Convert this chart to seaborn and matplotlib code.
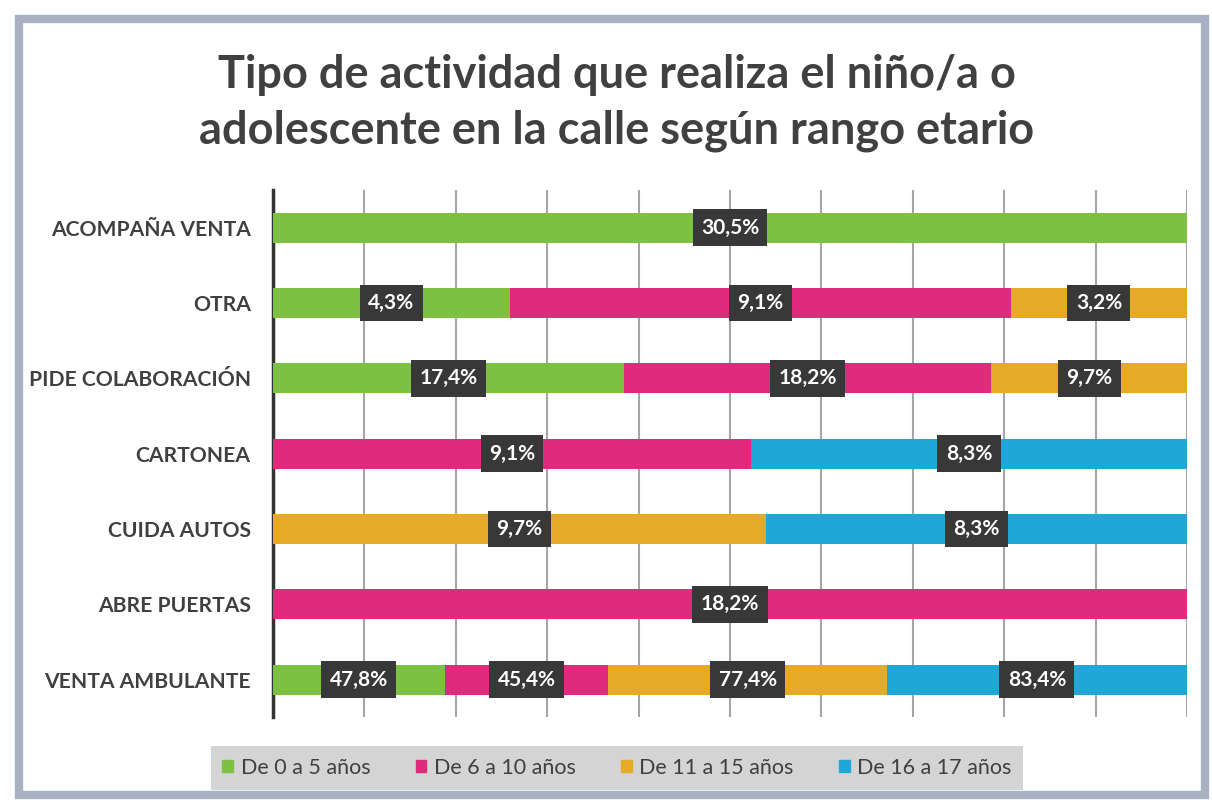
import numpy as np
import pandas as pd
import matplotlib.pyplot as plt
import matplotlib.patches as mpatches
import seaborn as sns

sns.set_style("white")
plt.rcParams['font.family'] = ['Lato', 'DejaVu Sans']

actividades = ["ACOMPAÑA VENTA", "OTRA", "PIDE COLABORACIÓN", "CARTONEA",
               "CUIDA AUTOS", "ABRE PUERTAS", "VENTA AMBULANTE"]
rangos = ["De 0 a 5 años", "De 6 a 10 años", "De 11 a 15 años", "De 16 a 17 años"]
de_0_a_5 = [30.5, 4.3, 17.4, 0, 0, 0, 47.8]
de_6_a_10 = [0, 9.1, 18.2, 9.1, 0, 18.2, 45.4]
de_11_a_15 = [0, 3.2, 9.7, 0, 9.7, 0, 77.4]
de_16_a_17 = [0, 0, 0, 8.3, 8.3, 0, 83.4]
colores = ["#7cc142", "#e02a7c", "#e6aa26", "#1fa7d7"]

df = pd.DataFrame({"actividad": actividades,
                   rangos[0]: de_0_a_5, rangos[1]: de_6_a_10,
                   rangos[2]: de_11_a_15, rangos[3]: de_16_a_17})
valores = df[rangos].to_numpy(dtype=float)
share = valores / valores.sum(axis=1, keepdims=True) * 100
acum = np.cumsum(share, axis=1)

fig = plt.figure(figsize=(12.12, 8.05), dpi=100)
ax = fig.add_axes([0.2252, 0.109, 0.7542, 0.655])

# frame around the chart
fig.patches.append(mpatches.Rectangle((0.016, 0.012), 0.978, 0.965, transform=fig.transFigure,
                                      fill=False, edgecolor="#a8b1c2", linewidth=6, zorder=0))

# stacked bars: draw the cumulative totals from last to first
for j in range(len(rangos) - 1, -1, -1):
    sns.barplot(x=acum[:, j], y=df["actividad"], color=colores[j], width=0.4,
                orient="h", ax=ax, saturation=1, edgecolor="none", zorder=3)

# value labels in the middle of each segment
for i in range(len(actividades)):
    left = 0
    for j in range(len(rangos)):
        if valores[i, j] > 0:
            mid = left + share[i, j] / 2
            ax.text(mid, i, f"{valores[i, j]:.1f}%".replace(".", ","), ha="center", va="center",
                    color="white", fontsize=15, fontweight="bold", zorder=5,
                    bbox=dict(boxstyle="square,pad=0.4", facecolor="#383838", edgecolor="none"))
        left += share[i, j]

ax.set_xlim(0, 100)
ax.set_ylim(6.5, -0.5)
ax.set_xticks(np.arange(0, 101, 10))
ax.set_xticklabels([])
ax.tick_params(axis="x", length=0)
ax.tick_params(axis="y", length=0, pad=16)
ax.xaxis.grid(True, color="#a6a6a6", linewidth=1.5, zorder=0)
ax.set_axisbelow(True)
for lbl in ax.get_yticklabels():
    lbl.set_fontweight("bold")
    lbl.set_fontsize(15.2)
    lbl.set_color("#404040")
ax.set_xlabel("")
ax.set_ylabel("")
for s in ["top", "right", "bottom"]:
    ax.spines[s].set_visible(False)
ax.spines["left"].set_color("#333333")
ax.spines["left"].set_linewidth(2.5)

fig.text(0.509, 0.872, "Tipo de actividad que realiza el niño/a o\nadolescente en la calle según rango etario",
         ha="center", va="center", fontsize=32.5, fontweight="bold", color="#404040", linespacing=1.4)

handles = [mpatches.Patch(color=c, label=r) for c, r in zip(colores, rangos)]
leg = fig.legend(handles=handles, loc="center", bbox_to_anchor=(0.509, 0.046), ncol=4,
                 frameon=True, fontsize=15.5, handlelength=0.5, handleheight=0.5,
                 handletextpad=0.35, columnspacing=2.1, borderpad=0.55, fancybox=False)
leg.get_frame().set_facecolor("#cacaca")
leg.get_frame().set_edgecolor("none")
for t in leg.get_texts():
    t.set_color("#404040")

fig.savefig("out.png", dpi=100)
